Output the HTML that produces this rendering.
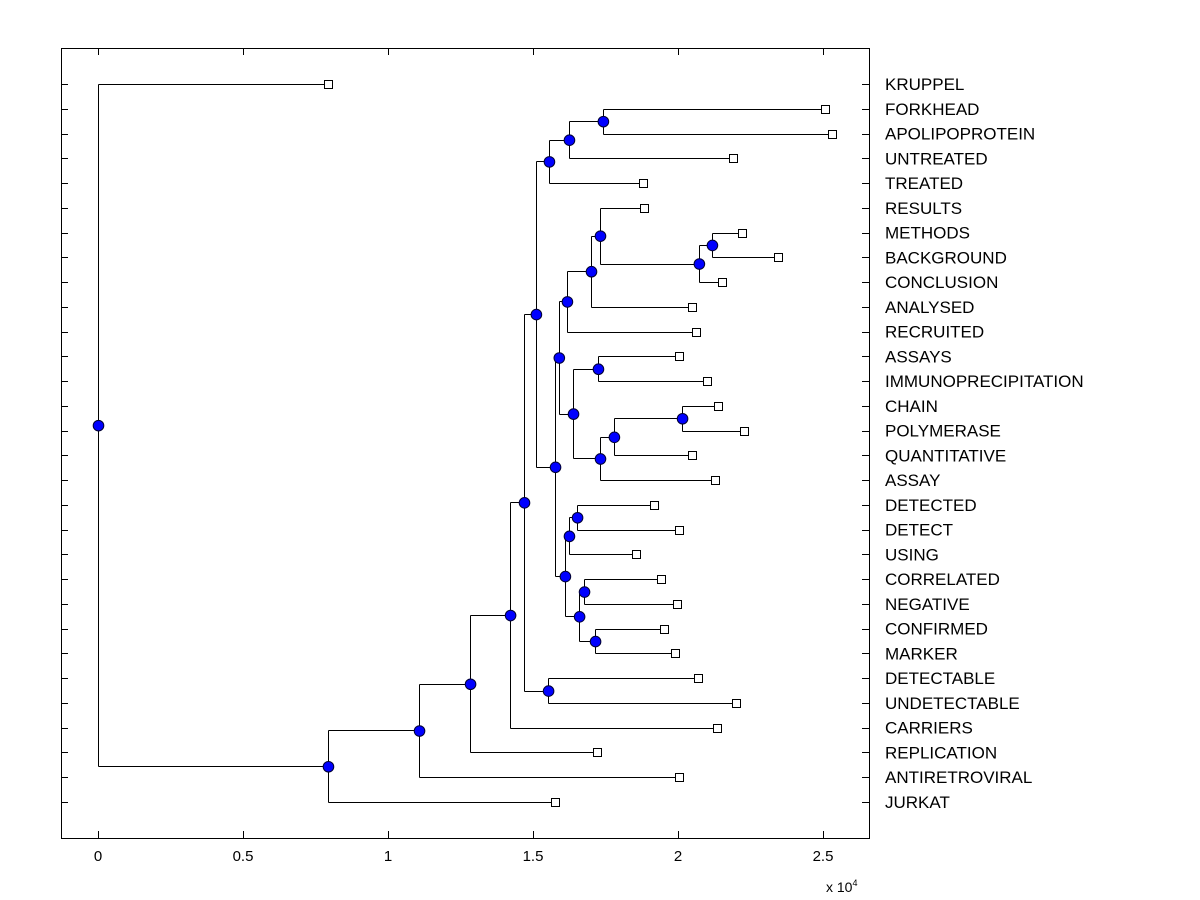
<!DOCTYPE html>
<html><head><meta charset="utf-8"><style>
body{margin:0;background:#fff;}
svg{display:block;font-family:"Liberation Sans",Arial,sans-serif;}
</style></head><body>
<svg id="chart" width="1200" height="900" viewBox="0 0 1200 900">
<rect x="0" y="0" width="1200" height="900" fill="#fff"/>
<rect x="61.5" y="48.5" width="808" height="790" fill="#fff" stroke="#000" stroke-width="1"/>
<g id="ticks"></g><g id="links"></g><g id="marks"></g><g id="labels"></g>
<text x="826" y="892" font-size="14">x 10<tspan font-size="9" dy="-6">4</tspan></text>
</svg>
<script>
const leafNames = ["KRUPPEL","FORKHEAD","APOLIPOPROTEIN","UNTREATED","TREATED","RESULTS","METHODS","BACKGROUND","CONCLUSION","ANALYSED","RECRUITED","ASSAYS","IMMUNOPRECIPITATION","CHAIN","POLYMERASE","QUANTITATIVE","ASSAY","DETECTED","DETECT","USING","CORRELATED","NEGATIVE","CONFIRMED","MARKER","DETECTABLE","UNDETECTABLE","CARRIERS","REPLICATION","ANTIRETROVIRAL","JURKAT"];
const leafValues = [0.793,2.507,2.531,2.19,1.879,1.883,2.221,2.345,2.152,2.048,2.062,2.003,2.1,2.138,2.228,2.048,2.128,1.917,2.003,1.855,1.941,1.997,1.952,1.99,2.069,2.2,2.134,1.72,2.003,1.576];
const nodeNames = ["nRoot","nA","nB","nC","nD","nE","nG","nF","nH","nJ","nK","nI","nN","nL","nP","nQ","nR","nS","nO","nT","nU","nV","nW","nM","nX","nZ","nY","nAA","nBB"];
const nodeValues = [0,0.793,1.107,1.283,1.421,1.469,1.552,1.510,1.555,1.624,1.741,1.576,1.589,1.617,1.7,1.731,2.072,2.117,1.638,1.724,1.731,1.779,2.014,1.61,1.624,1.652,1.659,1.676,1.714];
const nodeChildren = [["leaf0","nA"],["nB","leaf29"],["nC","leaf28"],["nD","leaf27"],["nE","leaf26"],["nF","nG"],["leaf24","leaf25"],["nH","nI"],["nJ","leaf4"],["nK","leaf3"],["leaf1","leaf2"],["nN","nM"],["nL","nO"],["nP","leaf10"],["nQ","leaf9"],["leaf5","nR"],["nS","leaf8"],["leaf6","leaf7"],["nT","nU"],["leaf11","leaf12"],["nV","leaf16"],["nW","leaf15"],["leaf13","leaf14"],["nX","nY"],["nZ","leaf19"],["leaf17","leaf18"],["nAA","nBB"],["leaf20","leaf21"],["leaf22","leaf23"]];
const xTicks = [0,0.5,1,1.5,2,2.5];
const xTickLabels = ["0","0.5","1","1.5","2","2.5"];

const NS="http://www.w3.org/2000/svg";
const sx = v => 98 + v*290;
function ly(i){return 84 + i*(802-84)/29;}
function mk(tag,attrs,parent){const e=document.createElementNS(NS,tag);for(const k in attrs)e.setAttribute(k,attrs[k]);parent.appendChild(e);return e;}
const gT=document.getElementById('ticks'),gL=document.getElementById('links'),gM=document.getElementById('marks'),gX=document.getElementById('labels');

const pos={};
function resolve(id){
  if(pos[id])return pos[id];
  if(id.startsWith('leaf')){const i=+id.slice(4);pos[id]={x:sx(leafValues[i]),y:ly(i)};return pos[id];}
  const k=nodeNames.indexOf(id);const c=nodeChildren[k];
  const a=resolve(c[0]),b=resolve(c[1]);
  pos[id]={x:sx(nodeValues[k]),y:(a.y+b.y)/2};return pos[id];
}
nodeNames.forEach(resolve);

leafNames.forEach((n,i)=>{
  const y=Math.round(ly(i))+0.5;
  let t=mk('line',{x1:61,x2:68,y1:y,y2:y,stroke:'#000'},gT);
  
  
  t=mk('line',{x1:862,x2:869,y1:y,y2:y,stroke:'#000'},gT);
  
  
  const tx=mk('text',{x:885,y:ly(i)+6,'font-size':17},gX);
  tx.textContent=n;
  
  
});
xTicks.forEach((v,i)=>{
  const x=Math.round(sx(v))+0.5;
  let t=mk('line',{x1:x,x2:x,y1:831,y2:838,stroke:'#000'},gT);
  
  
  t=mk('line',{x1:x,x2:x,y1:48,y2:55,stroke:'#000'},gT);
  
  
  const tx=mk('text',{x:sx(v),y:861,'font-size':15,'text-anchor':'middle'},gX);
  tx.textContent=xTickLabels[i];
  
  
});
nodeNames.forEach((id,k)=>{
  const p=pos[id];const [ca,cb]=nodeChildren[k].map(c=>pos[c]);
  const px=Math.round(p.x)+0.5;
  let l=mk('line',{x1:px,x2:px,y1:Math.round(ca.y)+0.5,y2:Math.round(cb.y)+0.5,stroke:'#000'},gL);
  
  
  [ca,cb].forEach(c=>{
    const h=mk('line',{x1:px,x2:Math.round(c.x)+0.5,y1:Math.round(c.y)+0.5,y2:Math.round(c.y)+0.5,stroke:'#000'},gL);
    
    
  });
});
leafNames.forEach((n,i)=>{
  const p=pos['leaf'+i];
  const r=mk('rect',{x:Math.round(p.x)-3.5,y:Math.round(p.y)-3.5,width:8,height:8,fill:'#fff',stroke:'#000'},gM);
  
  
});
nodeNames.forEach(id=>{
  const p=pos[id];
  const c=mk('circle',{cx:p.x+0.5,cy:p.y+0.5,r:5.3,fill:'#0000ff',stroke:'#000033','stroke-width':1},gM);
  
  
});
</script>
</body></html>
